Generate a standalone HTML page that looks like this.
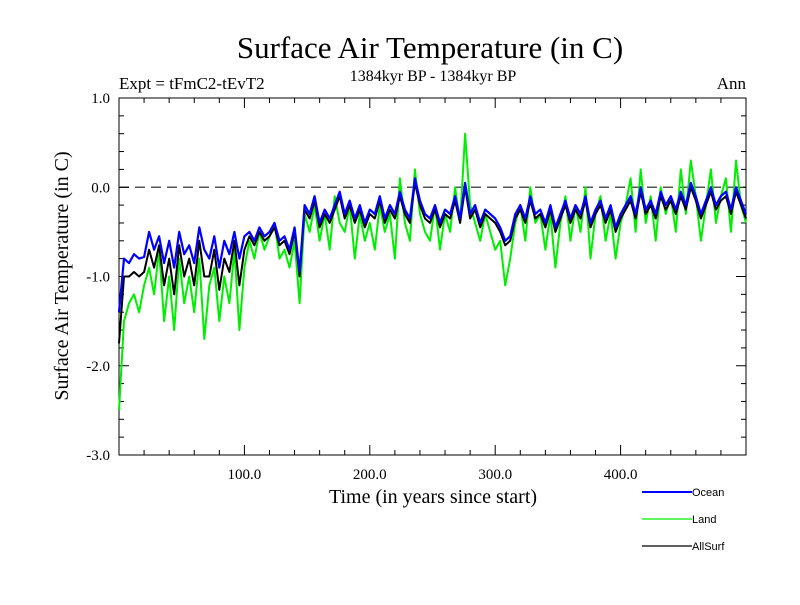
<!DOCTYPE html>
<html><head><meta charset="utf-8"><style>
body{margin:0;background:#fff}
svg text{font-family:"Liberation Serif",serif;fill:#000}
svg text.sans{font-family:"Liberation Sans",sans-serif}
</style></head><body>
<svg id="c" width="800" height="600" xmlns="http://www.w3.org/2000/svg">
<text x="430" y="58" font-size="31" text-anchor="middle">Surface Air Temperature (in C)</text>
<text x="119" y="89" font-size="17">Expt = tFmC2-tEvT2</text>
<text x="433" y="81" font-size="16" text-anchor="middle">1384kyr BP - 1384kyr BP</text>
<text x="746" y="89" font-size="17" text-anchor="end">Ann</text>
<text x="433" y="503" font-size="20" text-anchor="middle">Time (in years since start)</text>
<text transform="translate(68,276) rotate(-90)" font-size="20" text-anchor="middle">Surface Air Temperature (in C)</text>
<g id="axes"></g>
<g id="series"></g>
<g id="legend"></g>
</svg>
<script>
const years=[];for(let i=0;i<126;i++)years.push(i*4);
const ocean=[-1.4,-0.8,-0.85,-0.75,-0.8,-0.78,
-0.5,-0.7,-0.55,-0.85,-0.6,-0.9,-0.5,-0.75,-0.65,-0.85,
-0.45,-0.7,-0.8,-0.55,-0.9,-0.6,-0.75,-0.5,-0.8,-0.55,
-0.5,-0.6,-0.45,-0.55,-0.5,-0.4,-0.6,-0.55,-0.7,-0.45,
-0.95,-0.2,
-0.3,-0.1,-0.4,-0.25,-0.35,-0.2,-0.05,-0.3,-0.15,-0.35,-0.2,-0.4,-0.25,
-0.3,-0.1,-0.35,-0.2,-0.3,-0.05,-0.25,-0.35,0.1,-0.15,
-0.3,-0.35,-0.2,-0.4,-0.25,-0.3,-0.1,-0.35,0.05,-0.3,-0.2,-0.4,-0.25,-0.3,-0.35,
-0.45,-0.6,-0.55,-0.3,-0.2,-0.35,-0.1,-0.3,-0.25,-0.4,
-0.2,-0.45,-0.3,-0.15,-0.35,-0.2,-0.3,-0.1,-0.4,-0.25,-0.15,-0.35,-0.2,-0.45,-0.3,
-0.2,-0.1,-0.3,0.0,-0.25,-0.15,-0.3,-0.05,-0.2,-0.1,
-0.25,-0.05,-0.2,0.05,-0.1,-0.3,-0.15,0.0,-0.2,-0.1,-0.05,-0.25,0.0,-0.15,-0.3];
const land=[-2.5,-1.5,-1.3,-1.2,-1.4,-1.1,
-0.9,-1.2,-0.7,-1.5,-1.0,-1.6,-0.8,-1.3,-1.0,-1.4,
-0.8,-1.7,-1.1,-0.9,-1.5,-1.0,-1.3,-0.7,-1.6,-0.9,
-0.6,-0.8,-0.5,-0.7,-0.55,-0.4,-0.8,-0.7,-0.9,-0.6,
-1.3,-0.3,
-0.5,-0.2,-0.6,-0.3,-0.7,-0.1,-0.4,-0.5,-0.2,-0.8,-0.3,-0.6,-0.4,
-0.7,-0.2,-0.5,-0.3,-0.8,0.1,-0.4,-0.6,0.2,-0.3,
-0.5,-0.6,-0.2,-0.7,-0.3,-0.5,0.0,-0.4,0.6,-0.2,-0.4,-0.6,-0.3,-0.5,-0.7,
-0.6,-1.1,-0.8,-0.4,-0.2,-0.6,0.0,-0.4,-0.3,-0.7,
-0.3,-0.9,-0.4,-0.1,-0.6,-0.2,-0.5,0.0,-0.8,-0.3,-0.1,-0.6,-0.3,-0.8,-0.4,
-0.2,0.1,-0.5,0.2,-0.4,-0.1,-0.6,0.0,-0.3,-0.1,
-0.5,0.2,-0.3,0.3,-0.1,-0.6,-0.2,0.2,-0.4,-0.1,0.1,-0.5,0.3,-0.2,-0.4];
const allsurf=[-1.75,-1.0,-1.0,-0.95,-1.0,-0.95,
-0.7,-0.9,-0.65,-1.1,-0.8,-1.2,-0.65,-1.0,-0.8,-1.1,
-0.6,-1.0,-1.0,-0.7,-1.15,-0.8,-0.95,-0.6,-1.1,-0.7,
-0.55,-0.65,-0.5,-0.6,-0.55,-0.45,-0.65,-0.6,-0.75,-0.5,
-1.0,-0.25,
-0.35,-0.15,-0.45,-0.3,-0.4,-0.25,-0.1,-0.35,-0.2,-0.4,-0.25,-0.45,-0.3,
-0.35,-0.15,-0.4,-0.25,-0.35,-0.1,-0.3,-0.4,0.05,-0.2,
-0.35,-0.4,-0.25,-0.45,-0.3,-0.35,-0.15,-0.4,0.0,-0.35,-0.25,-0.45,-0.3,-0.35,-0.4,
-0.5,-0.65,-0.6,-0.35,-0.25,-0.4,-0.15,-0.35,-0.3,-0.45,
-0.25,-0.5,-0.35,-0.2,-0.4,-0.25,-0.35,-0.15,-0.45,-0.3,-0.2,-0.4,-0.25,-0.5,-0.35,
-0.25,-0.15,-0.35,-0.05,-0.3,-0.2,-0.35,-0.1,-0.25,-0.15,
-0.3,-0.1,-0.25,0.0,-0.15,-0.35,-0.2,-0.05,-0.25,-0.15,-0.1,-0.3,-0.05,-0.2,-0.35];
const xTicks=[100,200,300,400];
const xTickLabels=["100.0","200.0","300.0","400.0"];
const yTicks=[1,0,-1,-2,-3];
const yTickLabels=["1.0","0.0","-1.0","-2.0","-3.0"];

const L=119,R=746,T=98,B=455,X0=0,X1=500,Y0=-3,Y1=1;
const sx=v=>L+(v-X0)/(X1-X0)*(R-L);
const sy=v=>B-(v-Y0)/(Y1-Y0)*(B-T);
const NS="http://www.w3.org/2000/svg";
function mk(tag,attrs,parent){const e=document.createElementNS(NS,tag);for(const k in attrs)e.setAttribute(k,attrs[k]);parent.appendChild(e);return e;}
const ax=document.getElementById('axes');
let r=mk('rect',{x:L,y:T,width:R-L,height:B-T,fill:'none',stroke:'#000','stroke-width':1},ax);


let z=mk('line',{x1:L,x2:R,y1:sy(0),y2:sy(0),stroke:'#555','stroke-width':1.5,'stroke-dasharray':'10,6'},ax);


for(let v=20;v<X1;v+=20){const maj=v%100===0,len=maj?10:5;
mk('line',{x1:sx(v),x2:sx(v),y1:B,y2:B-len,stroke:'#000'},ax);
mk('line',{x1:sx(v),x2:sx(v),y1:T,y2:T+len,stroke:'#000'},ax);}
for(let k=0;k<=20;k++){const v=Y0+k*0.2;const maj=k%5===0,len=maj?10:5;
mk('line',{x1:L,x2:L+len,y1:sy(v),y2:sy(v),stroke:'#000'},ax);
mk('line',{x1:R,x2:R-len,y1:sy(v),y2:sy(v),stroke:'#000'},ax);}
xTicks.forEach((v,i)=>{const t=mk('text',{x:sx(v),y:B+24,'font-size':15,'text-anchor':'middle'},ax);t.textContent=xTickLabels[i];

});
yTicks.forEach((v,i)=>{const t=mk('text',{x:L-9,y:sy(v)+5,'font-size':15,'text-anchor':'end'},ax);t.textContent=yTickLabels[i];

});
const sg=document.getElementById('series');
function line(vals,color,w,name){const d=vals.map((v,i)=>(i?'L':'M')+sx(years[i]).toFixed(1)+','+sy(v).toFixed(1)).join('');
const p=mk('path',{d:d,fill:'none',stroke:color,'stroke-width':w,'stroke-linejoin':'round'},sg);

}
line(land,'#00ee00',2,'land-line');
line(allsurf,'#000',2,'allsurf-line');
line(ocean,'#0000ff',2.2,'ocean-line');
const lg=document.getElementById('legend');
[['Ocean','#0000ff',2,492],['Land','#00ee00',1.2,519],['AllSurf','#000',1.2,546]].forEach(e=>{
const l=mk('line',{x1:642,x2:692,y1:e[3],y2:e[3],stroke:e[1],'stroke-width':e[2]},lg);


const t=mk('text',{x:692,y:e[3]+4,'font-size':11,'class':'sans'},lg);t.textContent=e[0];

});
</script>
</body></html>
